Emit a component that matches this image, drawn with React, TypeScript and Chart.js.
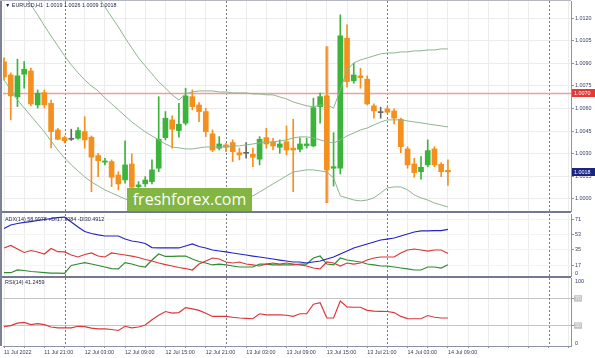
import { useEffect, useRef } from 'react';
import { Chart, registerables } from 'chart.js';

Chart.register(...registerables);

// ---------- data (EURUSD H1, bar 0 = 11 Jul 2022 15:00) ----------
const OPEN = [1.0091, 1.00823, 1.00677, 1.00828, 1.0085, 1.00624, 1.00706, 1.00635, 1.00458, 1.00407, 1.00396, 1.00403, 1.00447, 1.0041, 1.00288, 1.00244, 1.00248, 1.00159, 1.00126, 1.00232, 1.00082, 1.001, 1.00115, 1.00204, 1.00407, 1.00525, 1.00454, 1.00503, 1.00679, 1.00624, 1.0058, 1.00432, 1.00337, 1.00359, 1.00374, 1.00307, 1.00303, 1.00297, 1.00264, 1.00407, 1.0038, 1.00343, 1.0038, 1.00337, 1.0033, 1.00354, 1.00352, 1.00613, 1.00684, 1.00204, 1.00204, 1.01067, 1.00784, 1.00817, 1.00795, 1.00618, 1.00573, 1.00598, 1.00584, 1.00529, 1.00332, 1.00232, 1.00181, 1.00226, 1.00332, 1.0023, 1.0019];
const HIGH = [1.00936, 1.00837, 1.00928, 1.00912, 1.00868, 1.00724, 1.00724, 1.00657, 1.00469, 1.00418, 1.00463, 1.00473, 1.00546, 1.00418, 1.00303, 1.0027, 1.00259, 1.00181, 1.00385, 1.00299, 1.00115, 1.00148, 1.00259, 1.00679, 1.0058, 1.00551, 1.00635, 1.00735, 1.00724, 1.00639, 1.00602, 1.00458, 1.00414, 1.0037, 1.00392, 1.00337, 1.00374, 1.00337, 1.00414, 1.00469, 1.00403, 1.00392, 1.00485, 1.00529, 1.00405, 1.00403, 1.00669, 1.00702, 1.01011, 1.0044, 1.01222, 1.01155, 1.00901, 1.00868, 1.00817, 1.00631, 1.00609, 1.00609, 1.00598, 1.00536, 1.00347, 1.0027, 1.00281, 1.00392, 1.00347, 1.00241, 1.0026];
const LOW = [1.0079, 1.00525, 1.00613, 1.00735, 1.00618, 1.00604, 1.00604, 1.00339, 1.00392, 1.00372, 1.00388, 1.00396, 1.00337, 1.00048, 1.00148, 1.00226, 1.00082, 1.0006, 1.00104, 1.0006, 1.00071, 1.00082, 1.001, 1.00181, 1.00392, 1.00337, 1.0041, 1.00491, 1.00591, 1.00513, 1.00414, 1.00314, 1.00325, 1.00314, 1.00248, 1.00259, 1.0027, 1.00214, 1.00226, 1.00337, 1.00325, 1.00303, 1.00292, 1.00048, 1.00312, 1.00337, 1.00347, 1.00503, 0.99975, 1.00086, 1.00166, 1.00742, 1.00768, 1.00735, 1.00624, 1.00536, 1.00536, 1.00569, 1.00498, 1.00307, 1.00204, 1.00144, 1.00131, 1.00214, 1.00214, 1.00148, 1.0009];
const CLOSE = [1.0081, 1.00684, 1.00817, 1.00861, 1.00631, 1.00702, 1.00624, 1.00447, 1.00396, 1.00387, 1.00396, 1.00454, 1.00392, 1.00277, 1.00254, 1.00252, 1.00144, 1.001, 1.00226, 1.00078, 1.00093, 1.00126, 1.00193, 1.00396, 1.00536, 1.00463, 1.00496, 1.00684, 1.00613, 1.0058, 1.00447, 1.00325, 1.00365, 1.00343, 1.00314, 1.00292, 1.00303, 1.00277, 1.00396, 1.00365, 1.00352, 1.00365, 1.00325, 1.00325, 1.00365, 1.00365, 1.00606, 1.00679, 1.00193, 1.00214, 1.01082, 1.00779, 1.00823, 1.00805, 1.00631, 1.00584, 1.00573, 1.00576, 1.00536, 1.00347, 1.00226, 1.00175, 1.0021, 1.00321, 1.00226, 1.00181, 1.0018];

const BB_UPPER = [1.02271, 1.02204, 1.02138, 1.02072, 1.02005, 1.01939, 1.01872, 1.01806, 1.0174, 1.01673, 1.01607, 1.0154, 1.01474, 1.01408, 1.01341, 1.01275, 1.01208, 1.01142, 1.01069, 1.01003, 1.00936, 1.00883, 1.0083, 1.00777, 1.00737, 1.00691, 1.00657, 1.00697, 1.0071, 1.00717, 1.00717, 1.00717, 1.0071, 1.0071, 1.00704, 1.00704, 1.00704, 1.00697, 1.00697, 1.00691, 1.00691, 1.00677, 1.00664, 1.00644, 1.00631, 1.00618, 1.00611, 1.00624, 1.00624, 1.00604, 1.00724, 1.00857, 1.00903, 1.00923, 1.00936, 1.0095, 1.00963, 1.00969, 1.00969, 1.00976, 1.00976, 1.00983, 1.00983, 1.00989, 1.00989, 1.00996, 1.00996];
const BB_MIDDLE = [1.01574, 1.01501, 1.01434, 1.01361, 1.01288, 1.01222, 1.01149, 1.01082, 1.01016, 1.0095, 1.0089, 1.00837, 1.0079, 1.0075, 1.00717, 1.00671, 1.00631, 1.00591, 1.00551, 1.00511, 1.00478, 1.00445, 1.00418, 1.00392, 1.00365, 1.00345, 1.00339, 1.00332, 1.00332, 1.00339, 1.00345, 1.00345, 1.00345, 1.00345, 1.00352, 1.00352, 1.00359, 1.00365, 1.00372, 1.00378, 1.00378, 1.00385, 1.00392, 1.00405, 1.00412, 1.00412, 1.00405, 1.00392, 1.00378, 1.00372, 1.00392, 1.00418, 1.00438, 1.00458, 1.00471, 1.00491, 1.00511, 1.00525, 1.00525, 1.00525, 1.00518, 1.00511, 1.00505, 1.00498, 1.00491, 1.00485, 1.00478];
const BB_LOWER = [1.0079, 1.00724, 1.00657, 1.00604, 1.00551, 1.00498, 1.00445, 1.00385, 1.00325, 1.00272, 1.00226, 1.00186, 1.00146, 1.00113, 1.00086, 1.0006, 1.0004, 1.0002, 1.0, 0.99987, 0.9998, 0.99973, 0.99967, 0.99967, 0.99973, 0.99987, 1.0, 0.9998, 0.99967, 0.9996, 0.99967, 0.99973, 0.9998, 0.99987, 0.99993, 1.0, 1.00007, 1.0002, 1.00046, 1.00073, 1.001, 1.00126, 1.00153, 1.00179, 1.00186, 1.00193, 1.00193, 1.00186, 1.00179, 1.00139, 1.0002, 1.00007, 0.99993, 0.99987, 0.99993, 1.00007, 1.0004, 1.00073, 1.0008, 1.0008, 1.0006, 1.00027, 1.00007, 0.99993, 0.99973, 0.9996, 0.99947];

const ADX = [60.0, 64.1, 65.9, 67.1, 68.2, 69.4, 70.6, 71.8, 72.9, 73.5, 67.6, 61.8, 56.5, 54.1, 52.4, 51.2, 51.2, 51.2, 47.6, 45.3, 44.1, 42.4, 37.6, 37.1, 37.1, 37.1, 37.1, 39.4, 41.8, 38.8, 37.1, 34.7, 33.5, 32.4, 31.2, 30.0, 28.8, 27.6, 26.5, 25.3, 24.1, 22.9, 21.8, 20.6, 20.6, 19.4, 20.6, 21.8, 24.1, 26.5, 30.0, 33.5, 37.1, 39.4, 41.8, 44.1, 46.5, 47.6, 48.8, 51.2, 53.5, 55.9, 57.1, 57.1, 57.6, 57.6, 59.0];
const MINUS_DI = [37.1, 40.0, 35.9, 31.8, 34.1, 32.4, 30.0, 36.5, 32.7, 32.4, 28.8, 26.5, 29.4, 31.2, 27.6, 26.5, 31.2, 30.0, 28.8, 27.6, 25.9, 23.5, 21.8, 19.4, 17.6, 15.9, 14.1, 12.9, 11.2, 18.2, 21.8, 25.3, 24.1, 20.6, 19.4, 20.6, 18.2, 17.1, 15.9, 18.2, 19.4, 18.2, 19.4, 18.2, 17.1, 15.9, 13.5, 12.4, 20.6, 19.4, 15.9, 19.4, 18.2, 19.4, 22.9, 25.3, 26.5, 26.5, 26.5, 31.2, 34.7, 35.9, 34.7, 33.5, 34.7, 34.7, 30.5];
const PLUS_DI = [8.0, 8.0, 11.2, 10.6, 9.4, 8.8, 8.2, 7.6, 7.6, 7.3, 16.5, 18.2, 19.8, 18.2, 16.5, 14.7, 12.9, 12.4, 19.8, 18.2, 15.9, 14.7, 22.9, 30.0, 27.1, 27.1, 27.6, 27.6, 24.1, 21.2, 19.4, 17.1, 18.2, 17.1, 15.9, 14.7, 14.7, 14.7, 18.2, 18.2, 17.1, 17.1, 17.1, 17.1, 18.2, 18.2, 25.3, 27.6, 18.2, 17.1, 25.3, 22.9, 21.8, 20.6, 18.2, 17.1, 15.9, 15.9, 14.7, 13.5, 12.4, 11.2, 11.2, 14.7, 14.7, 13.5, 17.3];
const RSI = [28.6, 30.0, 33.6, 34.8, 31.5, 32.9, 31.5, 27.9, 26.7, 26.7, 26.7, 29.0, 28.6, 26.4, 25.3, 25.3, 24.3, 22.8, 29.0, 26.7, 27.9, 30.8, 38.7, 45.2, 50.7, 48.4, 49.2, 56.5, 54.6, 52.4, 48.1, 43.5, 43.5, 43.5, 42.3, 41.2, 40.6, 40.1, 47.4, 45.9, 45.9, 45.9, 45.2, 43.5, 47.4, 47.4, 61.4, 63.7, 41.2, 41.2, 66.1, 57.5, 57.0, 57.0, 52.4, 51.3, 51.0, 50.7, 49.2, 43.5, 40.4, 40.1, 40.1, 44.8, 42.3, 41.2, 41.2];

const TIME_LABELS = ['11 Jul 2022', '11 Jul 21:00', '12 Jul 03:00', '12 Jul 09:00', '12 Jul 15:00', '12 Jul 21:00', '13 Jul 03:00', '13 Jul 09:00', '13 Jul 15:00', '13 Jul 21:00', '14 Jul 03:00', '14 Jul 09:00'];
const LABEL_EVERY = 6;
const GRID_EVERY = 3;
const DAY_STARTS = [9, 33, 57, 81];
const PRICE_TICKS = [1.0, 1.0015, 1.003, 1.0045, 1.006, 1.0075, 1.009, 1.0105, 1.012];
const PRICE_MIN = 0.9992;
const PRICE_MAX = 1.01314;
const LEVEL_PRICE = 1.007;
const LAST_PRICE = 1.0018;
const ADX_TICKS = [17, 35, 53, 71];
const ADX_MIN = 4.12;
const ADX_MAX = 77.06;
const RSI_LEVELS = [30, 70];
const WIDE_WICK_BAR = 48;

const MAIN_TITLE = '\u25BC EURUSD,H1  1.0019 1.0026 1.0009 1.0018';
const ADX_TITLE = 'ADX(14) 58.9978 +DI17.3084 -DI30.4912';
const RSI_TITLE = 'RSI(14) 41.2459';

// ---------- style ----------
const FONT = '"Liberation Sans", Arial, sans-serif';
const FS = 5.4;
const TEXT = '#363c63';
const AXIS = '#8d92a6';
const GRID = '#ececec';
const SEP = '#7a7a7a';
const BULL = '#3cb43c';
const BEAR = '#f5901e';
const DOJI = '#666666';
const BAND = '#8db58d';
const X_MIN = -0.15;
const X_MAX = 84.3;
const AXIS_W = 24;

const xScale = (show: boolean) => ({
  type: 'linear',
  min: X_MIN,
  max: X_MAX,
  offset: false,
  afterBuildTicks: (s: any) => {
    const t: any[] = [];
    for (let v = 0; v <= X_MAX; v += GRID_EVERY) t.push({ value: v });
    s.ticks = t;
  },
  afterFit: (s: any) => {
    s.height = show ? 12 : 0;
    s.paddingLeft = 0;
    s.paddingRight = 0;
  },
  grid: {
    offset: false,
    color: (c: any) => (c.tick && DAY_STARTS.includes(c.tick.value) ? 'rgba(0,0,0,0)' : GRID),
    drawTicks: show,
    tickLength: 2,
    tickColor: AXIS,
  },
  border: { display: show, color: AXIS },
  ticks: {
    display: show,
    autoSkip: false,
    maxRotation: 0,
    minRotation: 0,
    align: 'start',
    padding: 1,
    color: TEXT,
    font: { family: FONT, size: FS },
    callback: (v: number) => (v % LABEL_EVERY === 0 ? TIME_LABELS[v / LABEL_EVERY] ?? '' : ''),
  },
});

const yScale = (min: number, max: number, ticks: number[], extra: any) => ({
  type: 'linear',
  position: 'right',
  min,
  max,
  afterBuildTicks: (s: any) => {
    s.ticks = ticks.map((v) => ({ value: v }));
  },
  afterFit: (s: any) => {
    s.width = AXIS_W;
    s.paddingTop = 0;
    s.paddingBottom = 0;
  },
  border: { color: AXIS },
  ...extra,
  grid: { tickLength: 3, tickColor: AXIS, ...(extra.grid || {}) },
  ticks: { padding: 1, color: TEXT, font: { family: FONT, size: FS }, ...(extra.ticks || {}) },
});

const separatorsPlugin = {
  id: 'daySeparators',
  beforeDatasetsDraw(chart: any) {
    const { ctx, chartArea: a, scales } = chart;
    ctx.save();
    ctx.strokeStyle = SEP;
    ctx.lineWidth = 1;
    ctx.setLineDash([2, 2]);
    DAY_STARTS.forEach((d) => {
      const x = Math.round(scales.x.getPixelForValue(d)) + 0.5;
      ctx.beginPath();
      ctx.moveTo(x, a.top);
      ctx.lineTo(x, a.bottom);
      ctx.stroke();
    });
    ctx.restore();
  },
};

const edgeLabels = (top: string | null, bottom: string | null) => ({
  id: 'edgeLabels',
  afterDraw(chart: any) {
    const { ctx, chartArea: a } = chart;
    ctx.save();
    ctx.fillStyle = TEXT;
    ctx.font = `${FS}px ${FONT}`;
    ctx.textAlign = 'left';
    if (top) {
      ctx.textBaseline = 'top';
      ctx.fillText(top, a.right + 4, a.top + 1);
    }
    if (bottom) {
      ctx.textBaseline = 'bottom';
      ctx.fillText(bottom, a.right + 4, a.bottom);
    }
    ctx.restore();
  },
});

const priceDecor = {
  id: 'priceDecor',
  beforeDatasetsDraw(chart: any) {
    const { ctx, chartArea: a, scales } = chart;
    const py = scales.y.getPixelForValue(LEVEL_PRICE);
    ctx.save();
    ctx.strokeStyle = '#e9a0a0';
    ctx.lineWidth = 1.5;
    ctx.beginPath();
    ctx.moveTo(a.left, py);
    ctx.lineTo(a.right, py);
    ctx.stroke();
    ctx.restore();
  },
  afterDraw(chart: any) {
    const { ctx, chartArea: a, scales } = chart;
    const tag = (value: number, bg: string) => {
      const py = scales.y.getPixelForValue(value);
      ctx.fillStyle = bg;
      ctx.fillRect(a.right + 1, Math.round(py) - 4, AXIS_W - 1, 8);
      ctx.fillStyle = '#ffffff';
      ctx.font = `${FS}px ${FONT}`;
      ctx.textAlign = 'left';
      ctx.textBaseline = 'middle';
      ctx.fillText(value.toFixed(4), a.right + 3, Math.round(py) + 0.5);
    };
    ctx.save();
    tag(LEVEL_PRICE, '#e53935');
    tag(LAST_PRICE, '#1a2580');
    ctx.restore();
  },
};

const common = (padding: any) => ({
  responsive: false,
  maintainAspectRatio: false,
  animation: false,
  events: [],
  layout: { padding },
  plugins: { legend: { display: false }, tooltip: { enabled: false } },
});

const series = (values: number[], color: string, width = 1) => ({
  type: 'line',
  data: values.map((v, i) => ({ x: i, y: v })),
  borderColor: color,
  borderWidth: width,
  pointRadius: 0,
  tension: 0,
  fill: false,
  order: 0,
});

function mainConfig(): any {
  const idx = OPEN.map((_, i) => i);
  const colors = idx.map((i) => (CLOSE[i] > OPEN[i] ? BULL : CLOSE[i] < OPEN[i] ? BEAR : DOJI));
  return {
    type: 'bar',
    data: {
      datasets: [
        series(BB_UPPER, BAND),
        series(BB_MIDDLE, BAND),
        series(BB_LOWER, BAND),
        {
          type: 'bar',
          data: idx.map((i) => ({ x: i, y: [OPEN[i], CLOSE[i]] })),
          backgroundColor: colors,
          barThickness: 5,
          minBarLength: 1,
          grouped: false,
          borderWidth: 0,
          order: 1,
        },
        {
          type: 'bar',
          data: idx.map((i) => ({ x: i, y: [LOW[i], HIGH[i]] })),
          backgroundColor: colors,
          barThickness: 1,
          grouped: false,
          borderWidth: 0,
          order: 2,
        },
        {
          type: 'bar',
          data: [{ x: WIDE_WICK_BAR, y: [LOW[WIDE_WICK_BAR], HIGH[WIDE_WICK_BAR]] }],
          backgroundColor: '#efc4b4',
          barThickness: 3,
          grouped: false,
          borderWidth: 0,
          order: 3,
        },
      ],
    },
    options: {
      ...common({ left: 3, top: 1, right: 0, bottom: 2 }),
      scales: {
        x: xScale(false),
        y: yScale(PRICE_MIN, PRICE_MAX, PRICE_TICKS, {
          grid: { color: GRID },
          ticks: { callback: (v: number) => v.toFixed(4) },
        }),
      },
    },
    plugins: [separatorsPlugin, priceDecor],
  };
}

function adxConfig(): any {
  return {
    type: 'line',
    data: {
      datasets: [
        series(ADX, '#2424c4', 1.2),
        series(MINUS_DI, '#d8383a', 1.2),
        series(PLUS_DI, '#2e8c2e', 1.2),
      ],
    },
    options: {
      ...common({ left: 3, top: 1, right: 0, bottom: 1 }),
      scales: {
        x: xScale(false),
        y: yScale(ADX_MIN, ADX_MAX, ADX_TICKS, { grid: { color: '#f3f3f3' } }),
      },
    },
    plugins: [separatorsPlugin, edgeLabels(null, '0')],
  };
}

function rsiConfig(): any {
  return {
    type: 'line',
    data: { datasets: [series(RSI, '#d8383a', 1.2)] },
    options: {
      ...common({ left: 3, top: 1, right: 0, bottom: 0 }),
      scales: {
        x: xScale(true),
        y: yScale(0, 100, RSI_LEVELS, {
          grid: { color: '#c4c4c4' },
          ticks: {
            color: '#f2f2f2',
            showLabelBackdrop: true,
            backdropColor: '#c4c4c4',
            backdropPadding: { top: 0, bottom: 0, left: 1, right: 1 },
          },
        }),
      },
    },
    plugins: [separatorsPlugin, edgeLabels('100', '0')],
  };
}

const titleStyle = (top: number): any => ({
  position: 'absolute',
  left: 5,
  top,
  fontFamily: FONT,
  fontSize: FS,
  lineHeight: '7px',
  color: '#22264d',
  whiteSpace: 'pre',
  zIndex: 3,
});

export default function App() {
  const mainRef = useRef<HTMLCanvasElement>(null);
  const adxRef = useRef<HTMLCanvasElement>(null);
  const rsiRef = useRef<HTMLCanvasElement>(null);

  useEffect(() => {
    const charts = [
      new Chart(mainRef.current as HTMLCanvasElement, mainConfig()),
      new Chart(adxRef.current as HTMLCanvasElement, adxConfig()),
      new Chart(rsiRef.current as HTMLCanvasElement, rsiConfig()),
    ];
    return () => charts.forEach((c) => c.destroy());
  }, []);

  const cv = (top: number, h: number): any => ({ position: 'absolute', left: 0, top, width: 595, height: h, display: 'block' });
  const bar = (top: number, h: number, left: number, w: number, color: string): any => ({
    position: 'absolute', left, top, width: w, height: h, background: color, zIndex: 4,
  });

  return (
    <div style={{ position: 'fixed', left: 0, top: 0, width: 595, height: 358, background: '#ffffff', overflow: 'hidden' }}>
      <canvas ref={mainRef} width={595} height={213} style={cv(0, 213)} />
      <canvas ref={adxRef} width={595} height={64} style={cv(213, 64)} />
      <canvas ref={rsiRef} width={595} height={81} style={cv(277, 81)} />
      <div style={bar(211, 2, 0, 571, '#737994')} />
      <div style={bar(276, 2, 0, 571, '#737994')} />
      <div style={bar(0, 346, 0, 2, '#7d8297')} />
      <div style={bar(0, 1, 0, 571, '#b5b8c4')} />
      <div style={titleStyle(2)}>{MAIN_TITLE}</div>
      <div style={titleStyle(215.5)}>{ADX_TITLE}</div>
      <div style={titleStyle(279)}>{RSI_TITLE}</div>
      <div
        style={{
          position: 'absolute', left: 127, top: 188, width: 125, height: 23, background: '#82b541',
          color: '#ffffff', fontFamily: '"Open Sans", sans-serif', fontSize: 16, lineHeight: '23px',
          textAlign: 'center', zIndex: 3,
        }}
      >
        freshforex.com
      </div>
    </div>
  );
}
